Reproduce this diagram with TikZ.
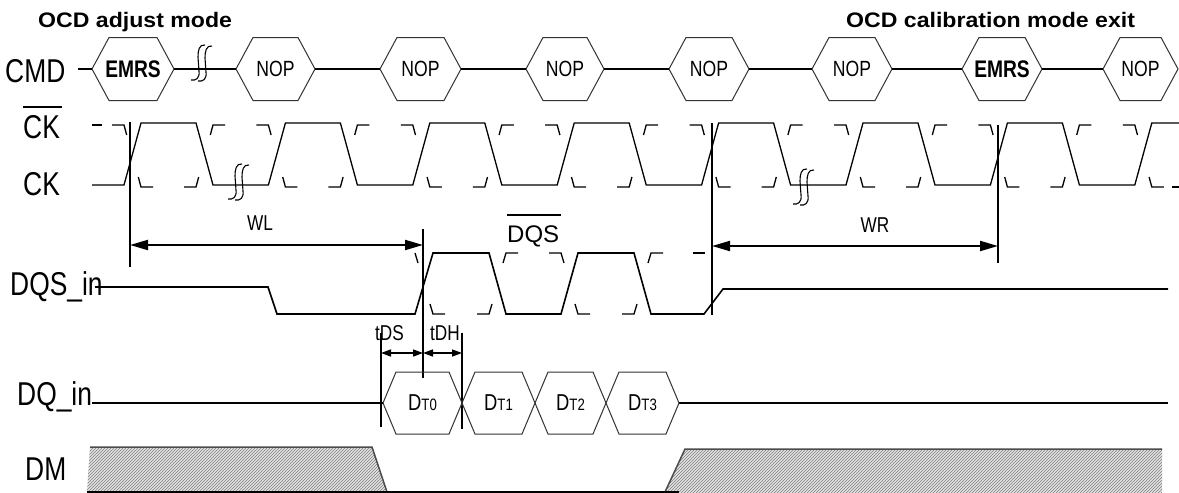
\documentclass[tikz,border=0pt]{standalone}
\usepackage{fontspec}
\setmainfont{Liberation Sans}
\newfontfamily\nf{Liberation Sans}[FakeStretch=0.8]
\newfontfamily\wf{Liberation Sans}[FakeStretch=1.1]
\usetikzlibrary{arrows.meta,patterns}
\newcommand\hexa[8]{%
  \draw[hexline] (#2,#4) -- (#2+#6,#4-#5) -- (#3-#6,#4-#5) -- (#3,#4) -- (#3-#6,#4+#5) -- (#2+#6,#4+#5) -- cycle;
  \coordinate (#1-l) at (#2,#4);
  \coordinate (#1-r) at (#3,#4);
  \node[#8] (#1) at ({(#2+#3)/2},#4) {#7};
}
\newcommand\brkmark[2]{%
  \draw[brkline] (#1+6,#2-18) .. controls (#1,#2-19) and (#1-1,#2-12) .. (#1-1,#2-6) -- (#1,#2+8) .. controls (#1+1,#2+15) and (#1-3,#2+18) .. (#1-8,#2+17);
  \draw[brkline] (#1+13,#2-17) .. controls (#1+7,#2-18) and (#1+6,#2-11) .. (#1+6,#2-5) -- (#1+7,#2+9) .. controls (#1+8,#2+16) and (#1+4,#2+19) .. (#1-1,#2+18);
}
\begin{document}
\begin{tikzpicture}[x=1pt,y=-1pt,
  lab/.style={font=\nf\fontsize{33}{34}\selectfont, inner sep=0pt, anchor=base west},
  hexline/.style={draw=black!80, line width=1pt},
  nop/.style={font=\nf\fontsize{22}{23}\selectfont, inner sep=0pt},
  emrs/.style={font=\nf\bfseries\fontsize{24}{25}\selectfont, inner sep=0pt},
  dt/.style={font=\nf\fontsize{23}{24}\selectfont, inner sep=0pt},
  sml/.style={font=\nf\fontsize{21.5}{22}\selectfont, inner sep=0pt},
  sigw/.style={line width=2pt},
  sig/.style={line width=1.6pt},
  ck/.style={line width=1.3pt},
  dsh/.style={line width=1.3pt},
  vline/.style={line width=2pt},
  bigarr/.style={line width=2pt,<->,>={Triangle[length=18pt,width=10pt]}},
  smallarr/.style={line width=1.5pt,<->,>={Triangle[length=10pt,width=7pt]}},
  brkline/.style={line width=1.1pt},
  ttl/.style={font=\wf\bfseries\fontsize{21}{22}\selectfont, inner sep=0pt, anchor=base west},
  dmedge/.style={line width=1.5pt, draw=black!70}
]
\fill[white] (0,0) rectangle (1179,493);
\useasboundingbox (0,0) rectangle (1179,493);

% titles
\node[ttl] (t1) at (38,27) {OCD adjust mode};
\node[ttl] (t2) at (846,27) {OCD calibration mode exit};

% labels
\node[lab] (lcmd) at (5,82) {CMD};
\node[lab] (lckb) at (23,138) {CK};
\draw[line width=1.8pt] (23,107) -- (62,107);
\node[lab] (lck) at (23,195) {CK};
\node[lab] (ldqs) at (10,295) {DQS\_in};
\node[lab] (ldq) at (17,405) {DQ\_in};
\node[lab] (ldm) at (25,480) {DM};

% CMD row
\hexa{c1}{92}{174}{69}{31.5}{17}{EMRS}{emrs}
\hexa{c2}{236}{315}{69}{31.5}{17}{NOP}{nop}
\hexa{c3}{380}{461}{69}{31.5}{17}{NOP}{nop}
\hexa{c4}{526}{604}{69}{31.5}{17}{NOP}{nop}
\hexa{c5}{669}{749}{69}{31.5}{17}{NOP}{nop}
\hexa{c6}{812}{892}{69}{31.5}{17}{NOP}{nop}
\hexa{c7}{962}{1042}{69}{31.5}{17}{EMRS}{emrs}
\hexa{c8}{1103}{1178}{69}{31.5}{17}{NOP}{nop}
\coordinate (cmd0) at (78,69);
\draw[sigw] (cmd0) -- (c1-l);
\draw[sigw] (c1-r) -- (c2-l);
\draw[sigw] (c2-r) -- (c3-l);
\draw[sigw] (c3-r) -- (c4-l);
\draw[sigw] (c4-r) -- (c5-l);
\draw[sigw] (c5-r) -- (c6-l);
\draw[sigw] (c6-r) -- (c7-l);
\draw[sigw] (c7-r) -- (c8-l);
\brkmark{199}{63}

% CK solid
\draw[ck] (92,185) foreach \k in {0,...,6} { -- ({124+144.4*\k},185) -- ({141+144.4*\k},123) -- ({196+144.4*\k},123) -- ({213+144.4*\k},185) } -- (1134.8,185) -- (1151.8,123) -- (1179,123);
% CK# dashed pieces
\draw[dsh] (92,125) -- (102,125);
\foreach \k in {0,...,7}{
  \pgfmathsetmacro\r{124+144.4*\k}
  \draw[dsh] (\r-12,125) -- (\r,125) -- (\r+2.7,135);
  \draw[dsh] (\r+14.3,177) -- (\r+17,187) -- (\r+29,187);
}
\foreach \k in {0,...,6}{
  \pgfmathsetmacro\f{196+144.4*\k}
  \draw[dsh] (\f-12,187) -- (\f,187) -- (\f+2.7,177);
  \draw[dsh] (\f+14.3,135) -- (\f+17,125) -- (\f+29,125);
}
\draw[dsh] (1172,187) -- (1179,187);
\brkmark{236}{182}
\brkmark{801}{187}

% vertical reference lines
\coordinate (v1t) at (130,122); \coordinate (v1b) at (130,267);
\coordinate (v2t) at (423,229); \coordinate (v2b) at (423,378);
\coordinate (v3t) at (712,123); \coordinate (v3b) at (712,315);
\coordinate (v4t) at (998,125); \coordinate (v4b) at (998,263);
\coordinate (v5t) at (381,333); \coordinate (v5b) at (381,427);
\coordinate (v6t) at (462,333); \coordinate (v6b) at (462,429);
\draw[vline] (v1t) -- (v1b);
\draw[vline] (v2t) -- (v2b);
\draw[vline] (v3t) -- (v3b);
\draw[vline] (v4t) -- (v4b);
\draw[vline] (v5t) -- (v5b);
\draw[vline] (v6t) -- (v6b);

% WL / WR
\coordinate (wla) at (130,245); \coordinate (wlb) at (423,245);
\coordinate (wra) at (712,246); \coordinate (wrb) at (998,246);
\draw[bigarr] (wla) -- (wlb);
\draw[bigarr] (wra) -- (wrb);
\node[sml, anchor=base] (lwl) at (260,230) {WL};
\node[sml, anchor=base] (lwr) at (875,232) {WR};

% DQS
\coordinate (dqs0) at (95,287);
\draw[sig] (dqs0) -- (268,287) -- (277,314) -- (415,314) -- (433,253) -- (489,253) -- (506,314) -- (561,314) -- (578,253) -- (634,253) -- (651,314) -- (704,314) -- (723,289) -- (1168,289);
\draw[dsh] (415,253) -- (418,263);
\draw[dsh] (430,304) -- (433,314) -- (445,314);
\draw[dsh] (477,314) -- (489,314) -- (492,304);
\draw[dsh] (503,263) -- (506,253) -- (518,253);
\draw[dsh] (549,253) -- (561,253) -- (564,263);
\draw[dsh] (575,304) -- (578,314) -- (590,314);
\draw[dsh] (622,314) -- (634,314) -- (637,304);
\draw[dsh] (648,263) -- (651,253) -- (663,253);
\draw[dsh] (693,253) -- (705,253);
\node[font=\fontsize{24}{25}\selectfont, inner sep=0pt, anchor=base west] (ldqsb) at (507,242) {DQS};
\draw[line width=1.6pt] (507,215) -- (561,215);

% tDS / tDH
\node[sml, anchor=base west] (ltds) at (375,340) {tDS};
\node[sml, anchor=base west] (ltdh) at (430,340) {tDH};
\coordinate (da) at (381,353); \coordinate (db) at (423,353); \coordinate (dc) at (462,353);
\draw[smallarr] (da) -- (db);
\draw[smallarr] (db) -- (dc);

% DQ
\hexa{d0}{383}{462}{403}{31}{13}{D{\fontsize{16.5}{17}\selectfont T0}}{dt}
\hexa{d1}{462}{535}{403}{31}{13}{D{\fontsize{16.5}{17}\selectfont T1}}{dt}
\hexa{d2}{535}{606}{403}{31}{13}{D{\fontsize{16.5}{17}\selectfont T2}}{dt}
\hexa{d3}{606}{679}{403}{31}{13}{D{\fontsize{16.5}{17}\selectfont T3}}{dt}
\coordinate (dq0) at (92,403);
\coordinate (dq1) at (1168,403);
\draw[sigw] (dq0) -- (d0-l);
\draw[sigw] (d3-r) -- (dq1);

% DM
\fill[gray!22] (90,447) -- (372,447) -- (387,492) -- (87,492) -- cycle;
\fill[pattern=north east lines, pattern color=gray] (90,447) -- (372,447) -- (387,492) -- (87,492) -- cycle;
\fill[gray!22] (665,492) -- (685,449) -- (1162,449) -- (1162,493) -- (665,493) -- cycle;
\fill[pattern=north east lines, pattern color=gray] (665,492) -- (685,449) -- (1162,449) -- (1162,493) -- (665,493) -- cycle;
\draw[dmedge] (90,447) -- (372,447) -- (387,492);
\draw[dmedge] (665,492) -- (685,449) -- (1162,449);
\coordinate (dm0) at (87,492); \coordinate (dm1) at (679,492);
\draw[sig] (dm0) -- (dm1);
\end{tikzpicture}
\end{document}
